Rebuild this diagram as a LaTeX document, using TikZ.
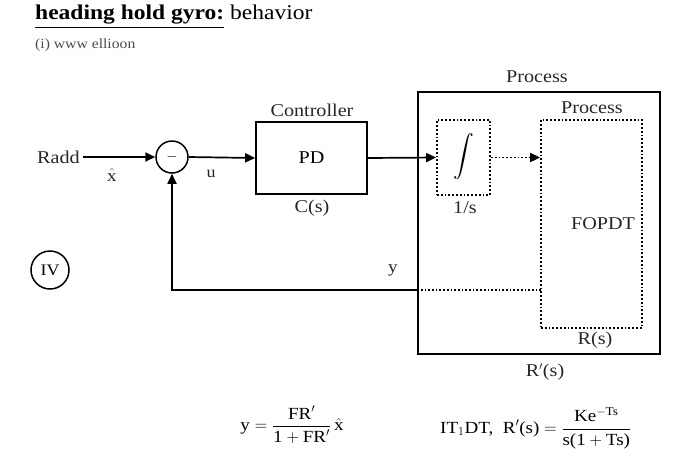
\documentclass[tikz,border=0pt]{standalone}
\usepackage{amsmath}
\usepackage{fontspec}
\setmainfont{Liberation Serif}[FakeStretch=1.12]
\usetikzlibrary{arrows.meta}
\begin{document}
\begin{tikzpicture}[x=1pt,y=-1pt,
  lbl/.style={font=\fontsize{18}{20}\selectfont, inner sep=0pt, text=black!85},
  blk/.style={draw, line width=1.7pt, inner sep=0pt, font=\fontsize{18}{20}\selectfont},
  dblk/.style={draw, dotted, line width=1.8pt, inner sep=0pt, font=\fontsize{18}{20}\selectfont},
  arr/.style={-{Triangle[length=10pt,width=9pt]}, line width=1.7pt},
  darr/.style={-{Triangle[length=10pt,width=9pt]}, line width=1.8pt, dotted},
  wire/.style={line width=1.7pt}]
\useasboundingbox (0,0) rectangle (700,472);

% title
\node[anchor=west, inner sep=0pt, font=\fontsize{21}{23}\selectfont] (title) at (35,17) {\textbf{\underline{heading hold gyro:}} behavior};
\node[anchor=west, inner sep=0pt, font=\fontsize{14}{16}\selectfont, text=black!70] (sub) at (35,45) {(i) www ellioon};

% blocks
\node[lbl, anchor=east] (radd) at (80,157) {Radd};
\node[draw, circle, line width=1.5pt, minimum size=32pt, inner sep=0pt, font=\fontsize{14}{16}\selectfont] (sum) at (172,157) {$-$};
\node[blk, minimum width=111pt, minimum height=72pt] (ctrl) at (311.5,158) {PD};
\node[blk, minimum width=242pt, minimum height=262pt] (outer) at (539,223) {};
\node[dblk, minimum width=53pt, minimum height=75pt] (int) at (463.5,157.5) {};
\node[inner sep=0pt, font=\fontsize{20}{22}\selectfont] (intsym) at (463.5,157) {$\displaystyle\int$};
\node[dblk, minimum width=101pt, minimum height=208pt] (proc) at (591.5,224) {};
\node[lbl] (fopdt) at (603,224) {FOPDT};

% labels
\node[lbl] (lctrl) at (312,110) {Controller};
\node[lbl] (lcs) at (312,208) {C(s)};
\node[lbl] (lint) at (465,208) {1/s};
\node[lbl] (lproc) at (537,77) {Process};
\node[lbl] (lproc2) at (592,108) {Process};
\node[lbl] (lrs) at (595,340) {R(s)};
\node[lbl] (lrps) at (545,372) {R$'$(s)};
\node[lbl, font=\fontsize{17}{19}\selectfont] (lx) at (112,175) {$\hat{\text{x}}$};
\node[lbl, font=\fontsize{16}{18}\selectfont] (lu) at (211,174) {u};
\node[lbl, font=\fontsize{17}{19}\selectfont] (ly) at (393,270) {y};

% IV marker
\node[draw, circle, line width=1.5pt, minimum size=38pt, inner sep=0pt, font=\fontsize{16}{18}\selectfont] (iv) at (50,270) {IV};

% connectors
\draw[arr] (radd.east) ++(3,0) coordinate (rs) -- (sum.west);
\draw[arr] (sum.east) -- (ctrl.west);
\draw[arr] (ctrl.east) -- (int.west);
\draw[darr] (int.east) -- (int.east -| proc.west);
\coordinate (fb) at (541,290);
\draw[wire, dotted] (fb) -- (fb -| outer.west);
\draw[arr] (fb -| outer.west) -- (fb -| sum.south) -- (sum.south);

% formulas
\node[inner sep=0pt, font=\fontsize{17}{19}\selectfont] (f1) at (292,425) {y $=\dfrac{\text{FR}'}{\text{1}+\text{FR}'}\,\hat{\text{x}}$};
\node[inner sep=0pt, anchor=west, font=\fontsize{17}{19}\selectfont] (f2) at (440,428) {IT$_1$DT,\ \ R$'$(s) $=\dfrac{\text{Ke}^{-\text{Ts}}}{\text{s(1}+\text{Ts)}}$};
\end{tikzpicture}
\end{document}
